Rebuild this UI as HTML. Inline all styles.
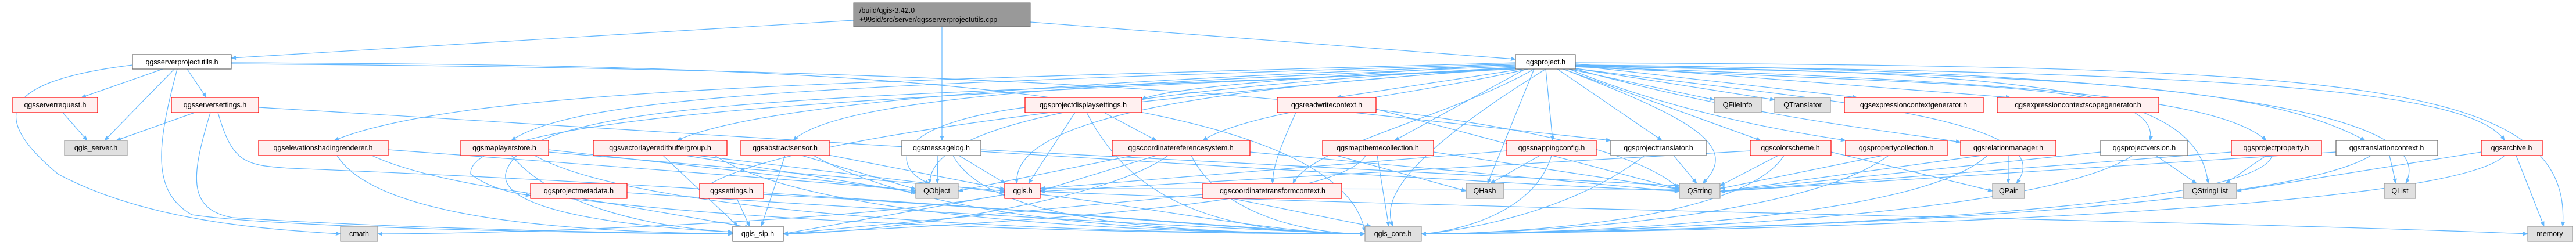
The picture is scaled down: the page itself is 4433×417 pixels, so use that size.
<!DOCTYPE html>
<html><head><meta charset="utf-8"><style>
html,body{margin:0;padding:0;background:#fff;width:4433px;height:417px;overflow:hidden}
svg{display:block}
text{font-family:"Liberation Sans",sans-serif;font-size:12.5px;fill:#000;text-anchor:middle}
.e{fill:none;stroke:#63b8ff;stroke-width:1.2}
.r{fill:#fff0f0;stroke:#ff0000;stroke-width:1.2}
.w{fill:#fff;stroke:#666;stroke-width:1.2}
.g{fill:#e0e0e0;stroke:#999;stroke-width:1.2}
</style></head><body>
<svg width="4433" height="417" viewBox="0 0 4433 417" xmlns="http://www.w3.org/2000/svg">
<defs><marker id="a" viewBox="0 0 10 10" refX="9" refY="5" markerWidth="9" markerHeight="9" orient="auto" markerUnits="userSpaceOnUse"><path d="M0,1 L10,5 L0,9 z" fill="#63b8ff"/></marker></defs>
<g class="e" marker-end="url(#a)">
<path d="M1469,35 L398,100"/>
<path d="M1773,38 L2608,102"/>
<path d="M1621,46 L1621,242"/>
<path d="M280,119 L140,168"/>
<path d="M300,119 L180,242"/>
<path d="M322,119 L355,168"/>
<path d="M228,112 C0,140 -20,200 100,300 C250,380 450,395 586,403"/>
<path d="M305,119 C270,250 260,330 330,370 C500,395 1100,403 1261,403"/>
<path d="M398,108 C1200,112 2300,120 2349,400"/>
<path d="M398,110 C1500,118 2700,150 2890,325"/>
<path d="M108,194 L150,242"/>
<path d="M335,194 L200,242"/>
<path d="M362,194 C330,300 320,360 400,375 C700,395 1150,403 1261,403"/>
<path d="M375,194 C400,280 420,285 500,290 C1500,330 2200,403 2349,403"/>
<path d="M445,185 C1200,230 2600,320 2890,329"/>
<path d="M2620,119 L2300,168"/>
<path d="M2608,110 C2300,130 2000,150 1965,172"/>
<path d="M2700,119 L2950,172"/>
<path d="M2705,117 L3054,172"/>
<path d="M2711,113 L3196,168"/>
<path d="M2711,110 L3460,168"/>
<path d="M2625,119 L2400,242"/>
<path d="M2660,119 L2672,242"/>
<path d="M2680,119 L2860,242"/>
<path d="M2690,119 L3030,242"/>
<path d="M2700,119 C2900,200 3100,230 3176,242"/>
<path d="M2711,119 C3000,200 3250,225 3374,245"/>
<path d="M2711,115 C3400,150 3720,140 3700,242"/>
<path d="M2711,115 C3500,140 3820,170 3900,242"/>
<path d="M2711,114 C3600,130 3900,150 4070,242"/>
<path d="M2711,112 C3800,125 4250,150 4310,242"/>
<path d="M2711,108 C4000,115 4430,130 4410,390"/>
<path d="M2711,113 C3500,125 3780,150 3800,316"/>
<path d="M2711,112 C3800,120 4200,200 4140,316"/>
<path d="M2711,118 C3100,170 3560,200 3470,316"/>
<path d="M2640,119 L2560,316"/>
<path d="M2690,119 C2900,200 3000,250 2930,316"/>
<path d="M2608,108 C1500,140 800,150 575,242"/>
<path d="M2608,110 C1500,145 1000,160 880,242"/>
<path d="M2608,112 C1800,140 1300,180 1165,242"/>
<path d="M2608,114 C2000,140 1450,160 1365,242"/>
<path d="M2630,119 C2400,170 2150,190 2070,242"/>
<path d="M2608,116 C2000,150 1600,200 1600,316"/>
<path d="M2608,118 C2100,150 1740,200 1750,316"/>
<path d="M2608,117 C1800,160 800,180 810,300 C850,330 900,335 913,337"/>
<path d="M2640,119 C2500,200 2260,250 2225,316"/>
<path d="M2608,119 C1500,170 900,160 870,300 C860,380 1200,400 1348,403"/>
<path d="M2660,119 C2400,280 2380,350 2397,390"/>
<path d="M2608,116 C1800,180 1300,250 1204,329"/>
<path d="M1729,335 C1500,380 900,403 650,403"/>
<path d="M580,268 C650,380 1000,400 1261,403"/>
<path d="M668,258 C1100,290 1500,320 1576,329"/>
<path d="M640,268 C900,390 2000,403 2349,403"/>
<path d="M944,258 L1576,329"/>
<path d="M944,262 L1729,329"/>
<path d="M920,268 C1100,370 1800,403 2349,403"/>
<path d="M880,268 C950,350 1100,390 1261,400"/>
<path d="M1141,268 L1270,390"/>
<path d="M1180,268 L1576,332"/>
<path d="M1200,268 L1729,332"/>
<path d="M1230,268 C1400,380 2000,403 2349,403"/>
<path d="M1351,268 L1310,390"/>
<path d="M1380,268 L1576,326"/>
<path d="M1420,266 L1729,326"/>
<path d="M1400,268 C1600,380 2000,403 2349,403"/>
<path d="M1614,268 L1613,316"/>
<path d="M1650,268 L1730,316"/>
<path d="M1640,268 C1700,380 2000,403 2349,403"/>
<path d="M1688,258 L2890,320"/>
<path d="M1850,194 L1770,316"/>
<path d="M1900,194 L1990,242"/>
<path d="M1764,185 C1500,220 1550,300 1600,316"/>
<path d="M1870,194 C1950,350 2100,403 2349,403"/>
<path d="M1950,268 L1649,329"/>
<path d="M1990,268 L1790,329"/>
<path d="M2010,268 C1900,350 1500,403 1348,403"/>
<path d="M2050,268 C2100,370 2250,403 2349,403"/>
<path d="M2151,262 L2890,330"/>
<path d="M1268,342 L1290,390"/>
<path d="M1314,335 C1800,360 2200,403 2349,403"/>
<path d="M1729,335 L1348,403"/>
<path d="M1790,335 C2000,360 2200,403 2349,403"/>
<path d="M1790,325 L2890,326"/>
<path d="M1790,330 C2500,360 3800,380 4350,403"/>
<path d="M2120,342 L2360,390"/>
<path d="M2070,335 L1348,403"/>
<path d="M2230,194 C2200,260 2190,290 2190,316"/>
<path d="M2330,194 L2772,242"/>
<path d="M2368,188 L2890,326"/>
<path d="M2300,268 L2523,329"/>
<path d="M2370,268 L2390,390"/>
<path d="M2350,268 C2300,360 1600,390 1348,403"/>
<path d="M2467,262 L2890,326"/>
<path d="M2650,268 L2565,316"/>
<path d="M2670,268 C2640,370 2500,400 2446,403"/>
<path d="M2593,260 L1790,325"/>
<path d="M2880,268 L2920,316"/>
<path d="M2830,268 C2700,370 2500,400 2446,403"/>
<path d="M3060,268 L2960,320"/>
<path d="M3070,268 C3000,380 2600,403 2446,403"/>
<path d="M3151,262 L3429,329"/>
<path d="M3012,260 L1790,330"/>
<path d="M3240,268 L2960,325"/>
<path d="M3250,268 C3100,380 2600,403 2446,403"/>
<path d="M3456,268 L3456,316"/>
<path d="M3420,268 C3300,380 2700,403 2446,403"/>
<path d="M3410,268 L2960,330"/>
<path d="M3710,268 L3780,316"/>
<path d="M3670,268 C3500,380 2700,403 2446,403"/>
<path d="M3615,262 L2960,330"/>
<path d="M3900,268 L3830,316"/>
<path d="M3910,268 C3880,380 2700,403 2446,403"/>
<path d="M3840,262 L2960,330"/>
<path d="M4112,268 L4123,316"/>
<path d="M4080,268 C3900,380 2700,403 2446,403"/>
<path d="M4020,262 L2960,330"/>
<path d="M4330,268 L4378,390"/>
<path d="M4270,262 L3849,329"/>
<path d="M4310,268 C4200,380 2700,403 2446,403"/>
<path d="M1000,342 L1290,392"/>
<path d="M1079,332 C1500,360 2200,400 2349,403"/>
</g>
<!-- nodes -->
<rect x="1469" y="5" width="304" height="41" fill="#999" stroke="#666"/>
<text x="1479" y="22" style="text-anchor:start">/build/qgis-3.42.0</text>
<text x="1479" y="38" style="text-anchor:start">+99sid/src/server/qgsserverprojectutils.cpp</text>

<rect class="w" x="228" y="94" width="170" height="25"/><text x="313" y="111">qgsserverprojectutils.h</text>
<rect class="w" x="2608" y="94" width="103" height="25"/><text x="2660" y="111">qgsproject.h</text>

<rect class="r" x="22" y="168" width="146" height="26"/><text x="95" y="185">qgsserverrequest.h</text>
<rect class="r" x="295" y="168" width="150" height="26"/><text x="370" y="185">qgsserversettings.h</text>
<rect class="r" x="1764" y="168" width="201" height="26"/><text x="1864" y="185">qgsprojectdisplaysettings.h</text>
<rect class="r" x="2198" y="168" width="170" height="26"/><text x="2283" y="185">qgsreadwritecontext.h</text>
<rect class="g" x="2950" y="168" width="81" height="26"/><text x="2990" y="185">QFileInfo</text>
<rect class="g" x="3054" y="168" width="96" height="26"/><text x="3102" y="185">QTranslator</text>
<rect class="r" x="3174" y="168" width="239" height="26"/><text x="3293" y="185">qgsexpressioncontextgenerator.h</text>
<rect class="r" x="3437" y="168" width="278" height="26"/><text x="3576" y="185">qgsexpressioncontextscopegenerator.h</text>

<rect class="g" x="111" y="242" width="108" height="26"/><text x="165" y="259">qgis_server.h</text>
<rect class="r" x="445" y="242" width="223" height="26"/><text x="556" y="259">qgselevationshadingrenderer.h</text>
<rect class="r" x="793" y="242" width="151" height="26"/><text x="868" y="259">qgsmaplayerstore.h</text>
<rect class="r" x="1021" y="242" width="230" height="26"/><text x="1136" y="259">qgsvectorlayereditbuffergroup.h</text>
<rect class="r" x="1275" y="242" width="152" height="26"/><text x="1351" y="259">qgsabstractsensor.h</text>
<rect class="w" x="1552" y="242" width="136" height="26"/><text x="1620" y="259">qgsmessagelog.h</text>
<rect class="r" x="1914" y="242" width="237" height="26"/><text x="2032" y="259">qgscoordinatereferencesystem.h</text>
<rect class="r" x="2276" y="242" width="191" height="26"/><text x="2371" y="259">qgsmapthemecollection.h</text>
<rect class="r" x="2593" y="242" width="154" height="26"/><text x="2670" y="259">qgssnappingconfig.h</text>
<rect class="w" x="2772" y="242" width="164" height="26"/><text x="2854" y="259">qgsprojecttranslator.h</text>
<rect class="r" x="3012" y="242" width="139" height="26"/><text x="3081" y="259">qgscolorscheme.h</text>
<rect class="r" x="3176" y="242" width="175" height="26"/><text x="3263" y="259">qgspropertycollection.h</text>
<rect class="r" x="3374" y="242" width="164" height="26"/><text x="3456" y="259">qgsrelationmanager.h</text>
<rect class="w" x="3615" y="242" width="150" height="26"/><text x="3690" y="259">qgsprojectversion.h</text>
<rect class="r" x="3840" y="242" width="155" height="26"/><text x="3917" y="259">qgsprojectproperty.h</text>
<rect class="w" x="4020" y="242" width="175" height="26"/><text x="4107" y="259">qgstranslationcontext.h</text>
<rect class="r" x="4270" y="242" width="105" height="26"/><text x="4322" y="259">qgsarchive.h</text>

<rect class="r" x="913" y="316" width="166" height="26"/><text x="996" y="333">qgsprojectmetadata.h</text>
<rect class="r" x="1204" y="316" width="110" height="26"/><text x="1259" y="333">qgssettings.h</text>
<rect class="g" x="1576" y="316" width="73" height="26"/><text x="1612" y="333">QObject</text>
<rect class="r" x="1729" y="316" width="61" height="26"/><text x="1760" y="333">qgis.h</text>
<rect class="r" x="2070" y="316" width="239" height="26"/><text x="2190" y="333">qgscoordinatetransformcontext.h</text>
<rect class="g" x="2523" y="316" width="65" height="26"/><text x="2555" y="333">QHash</text>
<rect class="g" x="2890" y="316" width="70" height="26"/><text x="2925" y="333">QString</text>
<rect class="g" x="3429" y="316" width="55" height="26"/><text x="3456" y="333">QPair</text>
<rect class="g" x="3757" y="316" width="92" height="26"/><text x="3803" y="333">QStringList</text>
<rect class="g" x="4103" y="316" width="54" height="26"/><text x="4130" y="333">QList</text>

<rect class="g" x="586" y="390" width="64" height="26"/><text x="618" y="407">cmath</text>
<rect class="w" x="1261" y="390" width="87" height="26"/><text x="1304" y="407">qgis_sip.h</text>
<rect class="g" x="2349" y="390" width="97" height="26"/><text x="2397" y="407">qgis_core.h</text>
<rect class="g" x="4350" y="390" width="77" height="26"/><text x="4388" y="407">memory</text>
</svg>
</body></html>
